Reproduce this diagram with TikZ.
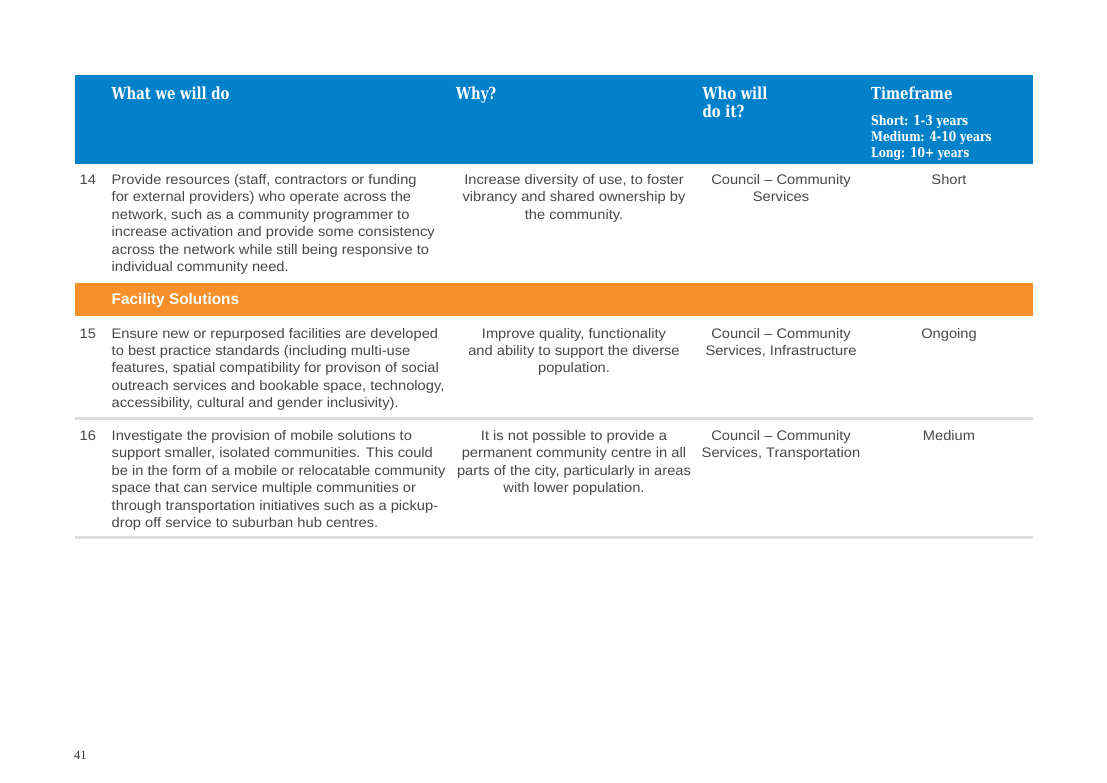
\documentclass[tikz,border=0pt]{standalone}
\usepackage{fontspec}
\setmainfont{Liberation Sans}
\newfontfamily\bodyfam[FakeStretch=1.06,Ligatures=TeX]{Liberation Sans}
\newfontfamily\slabfont[FakeStretch=0.8]{DejaVu Serif}
\newfontfamily\pgnumfont{Liberation Serif}
\definecolor{hdrblue}{RGB}{1,129,202}
\definecolor{secorange}{RGB}{247,144,43}
\definecolor{bodytxt}{RGB}{72,72,72}
\definecolor{rulegray}{RGB}{222,222,222}
\newcommand\bodytext{\bodyfam\fontsize{13.85}{17.4}\selectfont}
\newcommand\lcell[1]{\parbox[t]{360pt}{\raggedright\bodytext #1}}
\newcommand\ccell[1]{\parbox[t]{300pt}{\centering\bodytext #1}}
\tikzset{
  cellL/.style={inner sep=0, anchor=base west, text=bodytxt},
  cellC/.style={inner sep=0, anchor=base, text=bodytxt},
  numcell/.style={inner sep=0, anchor=base west, text=bodytxt, font=\bodytext},
  hdr/.style={inner sep=0, anchor=base west, text=white, font=\slabfont\bfseries\fontsize{16.6}{18.4}\selectfont, align=left},
  hdrsmall/.style={inner sep=0, anchor=base west, text=white, font=\slabfont\bfseries\fontsize{13.4}{15.8}\selectfont, align=left},
  sechead/.style={inner sep=0, anchor=base west, text=white, font=\bfseries\fontsize{15.4}{18}\selectfont},
  rowrule/.style={draw=rulegray, line width=3pt},
}
\begin{document}
\begin{tikzpicture}[x=1pt,y=-1pt]
\useasboundingbox (0,0) rectangle (1107,783);
\fill[white] (0,0) rectangle (1107,783);
% header band
\fill[hdrblue] (75,75) rectangle (1033,164.5);
\node[hdr] (h1) at (111.5,99.3) {What we will do};
\node[hdr] (h2) at (456,99.3) {Why?};
\node[hdr] (h3a) at (702.5,99.3) {Who will};
\node[hdr] (h3b) at (702.5,117.7) {do it?};
\node[hdr] (h4) at (871,99.3) {Timeframe};
\node[hdrsmall] (h4a) at (871,125.7) {Short: 1-3 years};
\node[hdrsmall] (h4b) at (871,141.5) {Medium: 4-10 years};
\node[hdrsmall] (h4c) at (871,157.3) {Long: 10+ years};
% row 14
\node[numcell] (n14) at (79.5,184.5) {14};
\node[cellL] (a14) at (111.5,184.5) {\lcell{Provide resources (staff, contractors or funding\\for external providers) who operate across the\\network, such as a community programmer to\\increase activation and provide some consistency\\across the network while still being responsive to\\individual community need.}};
\node[cellC] (b14) at (574,184.5) {\ccell{Increase diversity of use, to foster\\vibrancy and shared ownership by\\the community.}};
\node[cellC] (c14) at (781,184.5) {\ccell{Council – Community\\Services}};
\node[cellC] (d14) at (949,184.5) {\ccell{Short}};
% section band
\fill[secorange] (75,283.3) rectangle (1033,316);
\node[sechead] (sec) at (111.5,305) {Facility Solutions};
% row 15
\node[numcell] (n15) at (79.5,338) {15};
\node[cellL] (a15) at (111.5,338) {\lcell{Ensure new or repurposed facilities are developed\\to best practice standards (including multi-use\\features, spatial compatibility for provison of social\\outreach services and bookable space, technology,\\accessibility, cultural and gender inclusivity).}};
\node[cellC] (b15) at (574,338) {\ccell{Improve quality, functionality\\and ability to support the diverse\\population.}};
\node[cellC] (c15) at (781,338) {\ccell{Council – Community\\Services, Infrastructure}};
\node[cellC] (d15) at (949,338) {\ccell{Ongoing}};
\draw[rowrule] (75,418.3) -- (1033,418.3);
% row 16
\node[numcell] (n16) at (79.5,440.5) {16};
\node[cellL] (a16) at (111.5,440.5) {\lcell{Investigate the provision of mobile solutions to\\support smaller, isolated communities. This could\\be in the form of a mobile or relocatable community\\space that can service multiple communities or\\through transportation initiatives such as a pickup-\\drop off service to suburban hub centres.}};
\node[cellC] (b16) at (574,440.5) {\ccell{It is not possible to provide a\\permanent community centre in all\\parts of the city, particularly in areas\\with lower population.}};
\node[cellC] (c16) at (781,440.5) {\ccell{Council – Community\\Services, Transportation}};
\node[cellC] (d16) at (949,440.5) {\ccell{Medium}};
\draw[rowrule] (75,537.8) -- (1033,537.8);
% page number
\node[inner sep=0, anchor=base west, text=black!80, font=\pgnumfont\fontsize{12.5}{14}\selectfont] (pg) at (74,759.3) {41};
\end{tikzpicture}
\end{document}
